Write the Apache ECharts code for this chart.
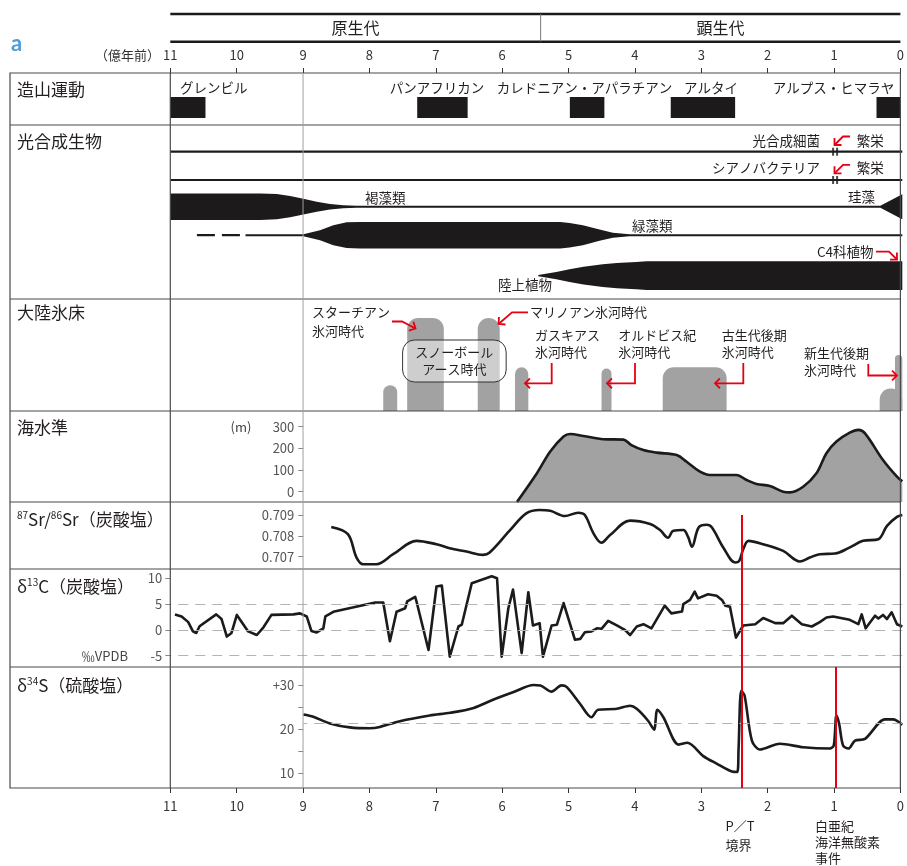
<!DOCTYPE html>
<html>
<head>
<meta charset="utf-8">
<script src="https://cdn.jsdelivr.net/npm/echarts@6/dist/echarts.min.js"></script>
<style>
  html, body { margin: 0; padding: 0; background: #fff; }
  #chart { width: 907px; height: 866px; }
</style>
</head>
<body>
<div id="chart"></div>
<script>
// ---------------- data (ages in 億年前) ----------------
const eonNames = ['原生代', '顕生代'];
const eonBounds = [11, 5.42, 0];

const orogenyNames = ['グレンビル', 'パンアフリカン', 'カレドニアン・アパラチアン', 'アルタイ', 'アルプス・ヒマラヤ'];
const orogenyStart = [11, 7.28, 4.98, 3.46, 0.36];
const orogenyEnd   = [10.47, 6.52, 4.46, 2.49, 0];

// photosynthesizers: half-thickness of each band (relative abundance)
const bacteriaSpan = [11, 0];
const cyanoSpan = [11, 0];
const bloomAge = [1.04, 0.98];
const brownAlgaeAge   = [11, 9.65, 9.4, 9.2, 9.0, 8.8, 8.6, 8.4, 8.2, 8.1, 0.33, 0];
const brownAlgaeWidth = [0.476, 0.476, 0.45, 0.38, 0.28, 0.18, 0.1, 0.055, 0.037, 0.035, 0.035, 0.446];
const greenAlgaeUncertain = [10.6, 9.95];
const greenAlgaeAge   = [9.87, 9.0, 8.75, 8.55, 8.35, 8.15, 5.14, 5.0, 4.8, 4.55, 4.35, 4.1, 0];
const greenAlgaeWidth = [0.035, 0.035, 0.18, 0.36, 0.46, 0.475, 0.475, 0.44, 0.36, 0.2, 0.09, 0.035, 0.035];
const landPlantAge   = [5.47, 5.2, 5.0, 4.79, 4.5, 4.29, 4.0, 3.84, 0];
const landPlantWidth = [0.02, 0.13, 0.23, 0.32, 0.41, 0.45, 0.49, 0.51, 0.51];

// continental ice sheets (relative extent)
const glacierStart  = [7.80, 7.44, 6.38, 5.82, 4.52, 3.60, 0.34, 0.11];
const glacierEnd    = [7.59, 6.89, 6.05, 5.62, 4.37, 2.64, 0, 0];
const glacierExtent = [0.23, 0.83, 0.83, 0.39, 0.38, 0.39, 0.2, 0.5];
const snowballSpan = [7.50, 5.94];

// sea level (m)
const seaAge = [5.79, 5.49, 5.29, 5.09, 4.99, 4.79, 4.49, 4.19, 4.07, 3.89, 3.69, 3.39, 3.24, 3.04, 2.89, 2.49, 2.34, 2.19, 1.99, 1.79, 1.69, 1.49, 1.29, 1.14, 0.99, 0.79, 0.66, 0.56, 0.29, 0.08, 0];
const seaLevel = [-47.5, 85, 185, 254, 266, 257, 242, 240, 215, 192, 180, 169, 138, 92, 77, 77, 54, 36, 26, 0, -3, 23, 85, 177, 231, 272, 285, 269, 146, 69, 48];

// 87Sr/86Sr
const srAge = [8.58, 8.33, 8.20, 8.10, 7.90, 7.65, 7.30, 7.00, 6.80, 6.55, 6.30, 6.20, 5.90, 5.65, 5.45, 5.29, 5.07, 4.87, 4.77, 4.64, 4.52, 4.39, 4.09, 3.79, 3.64, 3.52, 3.44, 3.29, 3.22, 3.16, 3.06, 2.94, 2.86, 2.69, 2.51, 2.45, 2.39, 2.31, 2.09, 1.79, 1.54, 1.39, 1.24, 1.01, 0.81, 0.59, 0.36, 0.23, 0.08, 0];
const srRatio = [0.70843, 0.70808, 0.70696, 0.70664, 0.70664, 0.70712, 0.70776, 0.70760, 0.70741, 0.70725, 0.70709, 0.70720, 0.70825, 0.70908, 0.70924, 0.70920, 0.70895, 0.70911, 0.70900, 0.70812, 0.70767, 0.70804, 0.70873, 0.70857, 0.70828, 0.70791, 0.70825, 0.70828, 0.70796, 0.70748, 0.70840, 0.70853, 0.70840, 0.70744, 0.70672, 0.70680, 0.70736, 0.70776, 0.70760, 0.70728, 0.70677, 0.70696, 0.70712, 0.70715, 0.70741, 0.70776, 0.70784, 0.70848, 0.70891, 0.70900];

// δ13C carbonate (‰VPDB)
const c13Age = [10.93, 10.83, 10.73, 10.66, 10.61, 10.56, 10.31, 10.23, 10.15, 10.08, 10.0, 9.83, 9.7, 9.6, 9.48, 9.15, 9.05, 8.95, 8.88, 8.80, 8.70, 8.67, 8.55, 7.92, 7.80, 7.70, 7.60, 7.47, 7.44, 7.32, 7.30, 7.12, 7.00, 6.92, 6.80, 6.67, 6.62, 6.47, 6.17, 6.09, 6.02, 5.92, 5.85, 5.72, 5.62, 5.55, 5.45, 5.40, 5.27, 5.19, 5.09, 4.92, 4.84, 4.77, 4.67, 4.59, 4.52, 4.42, 4.29, 4.17, 4.09, 3.99, 3.89, 3.77, 3.57, 3.47, 3.31, 3.29, 3.19, 3.12, 3.07, 2.92, 2.79, 2.71, 2.66, 2.59, 2.50, 2.39, 2.21, 2.09, 1.91, 1.79, 1.66, 1.51, 1.36, 1.24, 1.14, 1.04, 0.79, 0.66, 0.61, 0.55, 0.41, 0.36, 0.29, 0.23, 0.16, 0.08, 0];
const c13Val = [3.0, 2.6, 1.5, -0.3, -0.6, 0.7, 3.0, 2.1, -1.3, -0.6, 2.9, -0.3, -1.0, 0.5, 2.9, 3.0, 3.2, 2.6, -0.2, -0.5, 0.3, 2.6, 3.5, 5.3, 5.3, -2.2, 3.5, 4.2, 5.5, 6.4, 5.5, -3.9, 8.4, 8.6, -5.2, 0.65, 1.0, 9.05, 10.4, 10.0, -5.2, 4.2, 7.8, -4.5, 7.3, 0.85, 1.3, -5.2, 0.85, 1.0, 5.2, -1.9, -1.75, -0.45, -0.3, 0.3, 0.2, 1.75, 0.85, 0, -1.0, 0.65, 1.1, 0.3, 4.7, 3.2, 3.55, 5.0, 5.8, 7.4, 6.1, 6.9, 6.6, 5.8, 4.7, 4.5, -1.5, 0.85, 1.1, 2.3, 1.3, 1.3, 2.75, 1.1, 0.65, 1.5, 2.4, 2.6, 1.95, 1.1, 3.0, 0.3, 2.75, 2.2, 2.9, 2.1, 3.4, 1.1, 0.65];

// δ34S sulfate (‰)
const s34Age = [9.0, 8.85, 8.60, 8.30, 8.00, 7.85, 7.55, 7.10, 6.79, 6.44, 6.14, 5.84, 5.54, 5.44, 5.27, 5.12, 5.04, 4.84, 4.67, 4.57, 4.29, 4.09, 3.99, 3.82, 3.73, 3.68, 3.59, 3.36, 3.23, 2.99, 2.79, 2.56, 2.48, 2.46, 2.42, 2.37, 2.26, 2.14, 1.84, 1.49, 1.09, 1.03, 0.99, 0.95, 0.89, 0.81, 0.71, 0.56, 0.26, 0.14, 0];
const s34Val = [23.3, 22.8, 21.3, 20.4, 20.2, 20.5, 21.8, 23.1, 23.7, 24.8, 26.7, 28.4, 30.0, 29.9, 28.5, 29.9, 29.5, 25.7, 22.7, 24.4, 24.6, 25.3, 24.6, 21.9, 19.9, 24.4, 22.7, 16.5, 16.9, 13.9, 12.2, 10.4, 10.3, 15.6, 28.7, 27.6, 17.4, 15.4, 16.7, 15.9, 15.6, 16.3, 23.1, 21.3, 16.3, 15.6, 17.4, 17.8, 22.2, 22.2, 21.0];
const s34Seawater = 21.3;

// event boundaries
const ptBoundaryAge = 2.41;   // P/T 境界
const oaeAge = 1.0;           // 白亜紀海洋無酸素事件

// ---------------- layout ----------------
const FONT = '"Noto Sans CJK JP", "Noto Sans", sans-serif';
const INK = '#1c1a1a';
const RED = '#e60012';
const GRAY_FILL = '#a2a2a2';
const LEFT = 170.3, RIGHT = 907 - 902.3, LEFT9 = 303.3;
const grids = [
  { left: LEFT,  right: RIGHT, top: 73,  height: 52 },   // 造山運動
  { left: LEFT,  right: RIGHT, top: 125, height: 174 },  // 光合成生物
  { left: LEFT,  right: RIGHT, top: 299, height: 112 },  // 大陸氷床
  { left: LEFT9, right: RIGHT, top: 411, height: 91 },   // 海水準
  { left: LEFT9, right: RIGHT, top: 502, height: 67 },   // Sr
  { left: LEFT,  right: RIGHT, top: 569, height: 98 },   // δ13C
  { left: LEFT9, right: RIGHT, top: 667, height: 121 },  // δ34S
  { left: LEFT,  right: RIGHT, top: 787, height: 1 }     // bottom age scale
];
const SR_MIN = 0.70641, SR_MAX = 0.709625;
const lane = { bacteria: 0.954, cyano: 1.964, brown: 2.918, green: 3.936, land: 5.379 };
const BAR_TOP = 0.538, BAR_BOTTOM = 0.135;

const axisFont = { fontFamily: FONT, fontSize: 13 };

const xAxes = grids.map((g, i) => {
  const short = (i === 3 || i === 4 || i === 6);
  const ax = {
    gridIndex: i, type: 'value', min: 0, max: short ? 9 : 11, inverse: true,
    splitLine: { show: false }, axisLine: { show: false, onZero: false },
    axisTick: { show: false }, axisLabel: { show: false }
  };
  if (i === 0 || i === 7) {
    ax.position = i === 0 ? 'top' : 'bottom';
    ax.interval = 1;
    ax.axisTick = { show: true, length: 5, lineStyle: { color: '#333', width: 1 } };
    ax.axisLabel = Object.assign({ show: true, margin: i === 0 ? 11 : 12, color: '#333' }, axisFont);
  }
  return ax;
});

function hiddenY(i, min, max, inverse) {
  return { gridIndex: i, type: 'value', min, max, inverse: !!inverse, show: false, splitLine: { show: false } };
}
function shownY(i, min, max, tickVals, labelVals, fmt) {
  return {
    gridIndex: i, type: 'value', min, max, position: 'left',
    splitLine: { show: false }, axisLine: { show: false, onZero: false },
    axisTick: { show: true, length: 5, inside: false, customValues: tickVals, lineStyle: { color: '#888' } },
    axisLabel: Object.assign({ show: true, margin: 9, customValues: labelVals, formatter: fmt, color: '#555' }, axisFont)
  };
}
const yAxes = [
  hiddenY(0, 0, 1),
  hiddenY(1, 0, 174 / 28, true),
  hiddenY(2, 0, 1),
  shownY(3, -47.5, 372, [0, 100, 200, 300], [0, 100, 200, 300], v => String(v)),
  shownY(4, SR_MIN, SR_MAX, [0.707, 0.708, 0.709], [0.707, 0.708, 0.709], v => Number(v).toFixed(3)),
  shownY(5, -7.2, 11.8, [-5, 0, 5, 10], [-5, 0, 5, 10], v => String(v)),
  shownY(6, 6.67, 34.07, [10, 15, 20, 25, 30], [10, 20, 30], v => (v === 30 ? '+30' : String(v))),
  hiddenY(7, 0, 1)
];
yAxes[5].axisLabel.margin = 8;

const zip = (a, b) => a.map((v, i) => [v, b[i]]);
const dashStyle = { type: [10, 7], color: '#b4b4b4', width: 1.2 };
const redStyle = { type: 'solid', color: RED, width: 2 };
const curve = { color: INK, width: 2.6 };

function band(ages, widths, center, api) {
  const up = [], lo = [];
  for (let i = 0; i < ages.length; i++) {
    up.push(api.coord([ages[i], center - widths[i]]));
    lo.push(api.coord([ages[i], center + widths[i]]));
  }
  return up.concat(lo.reverse());
}
const algaeBands = [
  { age: brownAlgaeAge, width: brownAlgaeWidth, center: lane.brown },
  { age: greenAlgaeAge, width: greenAlgaeWidth, center: lane.green },
  { age: landPlantAge, width: landPlantWidth, center: lane.land }
];

const series = [
  // orogenies
  {
    type: 'custom', xAxisIndex: 0, yAxisIndex: 0, silent: true,
    data: orogenyStart.map((s, i) => [s, orogenyEnd[i], 0.5]),
    encode: { x: [0, 1], y: 2 },
    renderItem(params, api) {
      const a = api.coord([api.value(0), BAR_TOP]);
      const b = api.coord([api.value(1), BAR_BOTTOM]);
      return { type: 'rect', shape: { x: a[0], y: a[1], width: b[0] - a[0], height: b[1] - a[1] }, style: { fill: INK } };
    }
  },
  // photosynthetic bacteria & cyanobacteria
  {
    type: 'line', xAxisIndex: 1, yAxisIndex: 1, silent: true, symbol: 'none',
    data: bacteriaSpan.map(a => [a, lane.bacteria]), lineStyle: { color: INK, width: 2.2 }
  },
  {
    type: 'line', xAxisIndex: 1, yAxisIndex: 1, silent: true, symbol: 'none',
    data: cyanoSpan.map(a => [a, lane.cyano]), lineStyle: { color: INK, width: 2.2 }
  },
  {
    type: 'scatter', xAxisIndex: 1, yAxisIndex: 1, silent: true, symbol: 'rect', symbolSize: [2, 8],
    itemStyle: { color: INK },
    data: bloomAge.map(a => [a, lane.bacteria]).concat(bloomAge.map(a => [a, lane.cyano]))
  },
  // algae and land plants
  {
    type: 'custom', xAxisIndex: 1, yAxisIndex: 1, silent: true,
    data: algaeBands.map(b => [b.age[0], b.center]),
    encode: { x: 0, y: 1 },
    renderItem(params, api) {
      const b = algaeBands[params.dataIndex];
      return { type: 'polygon', shape: { points: band(b.age, b.width, b.center, api) }, style: { fill: INK } };
    }
  },
  {
    type: 'line', xAxisIndex: 1, yAxisIndex: 1, silent: true, symbol: 'none',
    data: greenAlgaeUncertain.map(a => [a, lane.green]), lineStyle: { color: INK, width: 2.2, type: [18, 7] }
  },
  // ice sheets
  {
    type: 'custom', xAxisIndex: 2, yAxisIndex: 2, silent: true,
    data: glacierStart.map((s, i) => [s, glacierEnd[i], glacierExtent[i]]),
    encode: { x: [0, 1], y: 2 },
    renderItem(params, api) {
      const a = api.coord([api.value(0), api.value(2)]);
      const b = api.coord([api.value(1), 0]);
      const w = b[0] - a[0];
      const r = Math.min(w / 2, 11);
      return { type: 'rect', shape: { x: a[0], y: a[1], width: w, height: b[1] - a[1], r: [r, r, 0, 0] }, style: { fill: GRAY_FILL } };
    }
  },
  // sea level
  {
    type: 'line', xAxisIndex: 3, yAxisIndex: 3, silent: true, symbol: 'none', smooth: 0.35,
    data: zip(seaAge, seaLevel), lineStyle: curve,
    areaStyle: { color: GRAY_FILL, opacity: 1, origin: 'start' }
  },
  // Sr
  {
    type: 'line', xAxisIndex: 4, yAxisIndex: 4, silent: true, symbol: 'none', smooth: 0.35,
    data: zip(srAge, srRatio), lineStyle: curve, z: 3,
    markLine: {
      silent: true, symbol: ['none', 'none'], label: { show: false }, animation: false,
      data: [
        { yAxis: 0.709, lineStyle: dashStyle },
        [{ coord: [ptBoundaryAge, 0.709], lineStyle: redStyle }, { coord: [ptBoundaryAge, SR_MIN] }]
      ]
    }
  },
  // δ13C
  {
    type: 'line', xAxisIndex: 5, yAxisIndex: 5, silent: true, symbol: 'none',
    data: zip(c13Age, c13Val), lineStyle: Object.assign({ join: 'round' }, curve), z: 3,
    markLine: {
      silent: true, symbol: ['none', 'none'], label: { show: false }, animation: false,
      data: [
        { yAxis: 5, lineStyle: dashStyle },
        { yAxis: 0, lineStyle: dashStyle },
        { yAxis: -5, lineStyle: dashStyle },
        { xAxis: ptBoundaryAge, lineStyle: redStyle }
      ]
    }
  },
  // δ34S
  {
    type: 'line', xAxisIndex: 6, yAxisIndex: 6, silent: true, symbol: 'none', smooth: 0.3,
    data: zip(s34Age, s34Val), lineStyle: curve, z: 3,
    markLine: {
      silent: true, symbol: ['none', 'none'], label: { show: false }, animation: false,
      data: [
        { yAxis: s34Seawater, lineStyle: dashStyle },
        { xAxis: ptBoundaryAge, lineStyle: redStyle },
        { xAxis: oaeAge, lineStyle: redStyle }
      ]
    }
  }
];

const chart = echarts.init(document.getElementById('chart'), null, { renderer: 'canvas', width: 907, height: 866 });
chart.setOption({
  animation: false,
  backgroundColor: '#fff',
  grid: grids,
  xAxis: xAxes,
  yAxis: yAxes,
  series
});

// ---------------- frame, headings and annotations ----------------
const xAt = age => chart.convertToPixel({ xAxisIndex: 0 }, age);
const yAt = (axis, v) => chart.convertToPixel({ yAxisIndex: axis }, v);
const els = [];
const Z = 100;

function line(x1, y1, x2, y2, stroke, lw) {
  els.push({ type: 'line', z: Z, silent: true, shape: { x1, y1, x2, y2 }, style: { stroke, lineWidth: lw } });
}
function text(x, y, str, size, opts) {
  els.push({
    type: 'text', z: Z + 1, silent: true, x, y,
    style: Object.assign({
      text: str, font: size + 'px ' + FONT, fill: '#231f20',
      align: 'left', verticalAlign: 'middle', textAlign: 'left', textVerticalAlign: 'middle'
    }, opts || {})
  });
}
function arrow(pts) {
  const n = pts.length;
  const [x1, y1] = pts[n - 2], [x2, y2] = pts[n - 1];
  const ang = Math.atan2(y2 - y1, x2 - x1);
  const L = 7, s = Math.PI / 4;
  const h1 = [x2 - L * Math.cos(ang - s), y2 - L * Math.sin(ang - s)];
  const h2 = [x2 - L * Math.cos(ang + s), y2 - L * Math.sin(ang + s)];
  els.push({ type: 'polyline', z: Z, silent: true, shape: { points: pts }, style: { stroke: RED, lineWidth: 1.8, fill: null } });
  els.push({ type: 'polyline', z: Z, silent: true, shape: { points: [h1, [x2, y2], h2] }, style: { stroke: RED, lineWidth: 1.8, fill: null } });
}

const x11 = xAt(11), x0 = xAt(0), x9 = xAt(9);
const boxTop = grids[0].top, boxBottom = grids[6].top + grids[6].height;
const FRAME = '#4a4a4a';

// eon header
line(x11, 14, x0, 14, INK, 2.6);
line(x11, 41.7, x0, 41.7, INK, 2.6);
line(xAt(eonBounds[1]), 14, xAt(eonBounds[1]), 41.7, '#777', 1);
eonNames.forEach((n, i) => {
  text((xAt(eonBounds[i]) + xAt(eonBounds[i + 1])) / 2, 28, n, 16, { align: 'center', textAlign: 'center' });
});
text(11, 44, 'a', 22, { font: 'bold 22px Lato, "Noto Sans", sans-serif', fill: '#4f9dd6' });
text(160, 55, '（億年前）', 13, { align: 'right', textAlign: 'right', fill: '#333' });

// table frame
els.push({ type: 'rect', z: Z, silent: true, shape: { x: 10, y: boxTop, width: x0 - 10, height: boxBottom - boxTop },
  style: { fill: null, stroke: FRAME, lineWidth: 1.2 } });
line(x11, boxTop, x11, boxBottom, FRAME, 1.2);
for (let i = 1; i <= 6; i++) line(10, grids[i].top, x0, grids[i].top, FRAME, 1.2);
line(x9, boxTop, x9, boxBottom, '#a0a0a0', 1);

// row titles
const titleSize = 17;
text(17, 90, '造山運動', titleSize);
text(17, 142, '光合成生物', titleSize);
text(17, 313, '大陸氷床', titleSize);
text(17, 428, '海水準', titleSize);
const supRich = { s: { fontSize: 10, fontFamily: FONT, fill: '#231f20', verticalAlign: 'top', lineHeight: 10 } };
text(17, 520, '{s|87}Sr/{s|86}Sr（炭酸塩）', titleSize, { rich: supRich, lineHeight: 20 });
text(17, 587, 'δ{s|13}C（炭酸塩）', titleSize, { rich: supRich, lineHeight: 20 });
text(17, 686, 'δ{s|34}S（硫酸塩）', titleSize, { rich: supRich, lineHeight: 20 });

// axis units
text(241, yAt(3, 300), '(m)', 13, { align: 'center', textAlign: 'center', fill: '#444' });
text(128, yAt(5, -5), '‰VPDB', 13, { align: 'right', textAlign: 'right', fill: '#444' });

// orogeny names
const oroLabelY = 88;
text(180, oroLabelY, orogenyNames[0], 13.5);
text(437, oroLabelY, orogenyNames[1], 13.5, { align: 'center', textAlign: 'center' });
text(584.5, oroLabelY, orogenyNames[2], 13.5, { align: 'center', textAlign: 'center' });
text(711, oroLabelY, orogenyNames[3], 13.5, { align: 'center', textAlign: 'center' });
text(833.5, oroLabelY, orogenyNames[4], 13.5, { align: 'center', textAlign: 'center' });

// photosynthesizer labels
const rightAl = { align: 'right', textAlign: 'right' };
text(820, 140.7, '光合成細菌', 13.5, rightAl);
text(856.7, 140.7, '繁栄', 13.5);
arrow([[850, 136.5], [843, 136.5], [834.5, 145]]);
text(820, 168.3, 'シアノバクテリア', 13.5, rightAl);
text(856.7, 168.3, '繁栄', 13.5);
arrow([[850, 164.8], [843, 164.8], [834.5, 173.3]]);
text(365, 197.7, '褐藻類', 13.5);
text(848, 197, '珪藻', 13.5);
text(632, 226, '緑藻類', 13.5);
text(817, 251.7, 'C4科植物', 13.5);
arrow([[876, 251.7], [889, 251.7], [897, 259.5]]);
text(498, 285, '陸上植物', 13.5);

// ice-age labels
text(312, 312, 'スターチアン', 13);
text(312, 331, '氷河時代', 13);
arrow([[392, 321.5], [402, 321.5], [415.5, 328.5]]);
text(530, 312, 'マリノアン氷河時代', 13);
arrow([[528, 312.3], [512, 312.3], [498.5, 324]]);
text(535, 335, 'ガスキアス', 13);
text(535, 352, '氷河時代', 13);
arrow([[551.7, 363], [551.7, 383.3], [525, 383.3]]);
text(618.3, 335, 'オルドビス紀', 13);
text(618.3, 352, '氷河時代', 13);
arrow([[635, 363], [635, 383.3], [607, 383.3]]);
text(721.7, 335, '古生代後期', 13);
text(721.7, 352, '氷河時代', 13);
arrow([[743.3, 363], [743.3, 383.3], [715, 383.3]]);
text(804, 353, '新生代後期', 13);
text(804, 370, '氷河時代', 13);
arrow([[868.3, 364], [868.3, 375.5], [897, 375.5]]);

// snowball earth box
const sbL = xAt(snowballSpan[0]), sbR = xAt(snowballSpan[1]);
els.push({ type: 'rect', z: Z, silent: true, shape: { x: sbL, y: 340, width: sbR - sbL, height: 42, r: 12 },
  style: { fill: 'rgba(255,255,255,0.48)', stroke: '#333', lineWidth: 1 } });
text((sbL + sbR) / 2, 352.5, 'スノーボール', 13, { align: 'center', textAlign: 'center' });
text((sbL + sbR) / 2, 369.5, 'アース時代', 13, { align: 'center', textAlign: 'center' });

// event labels below the age scale
text(xAt(ptBoundaryAge) - 15, 826.5, 'P／T', 13);
text(xAt(ptBoundaryAge) - 15, 845, '境界', 13);
text(xAt(oaeAge) - 19, 826.5, '白亜紀', 13);
text(xAt(oaeAge) - 19, 842, '海洋無酸素', 13);
text(xAt(oaeAge) - 19, 858, '事件', 13);

chart.setOption({ graphic: { elements: els } });
</script>
</body>
</html>
